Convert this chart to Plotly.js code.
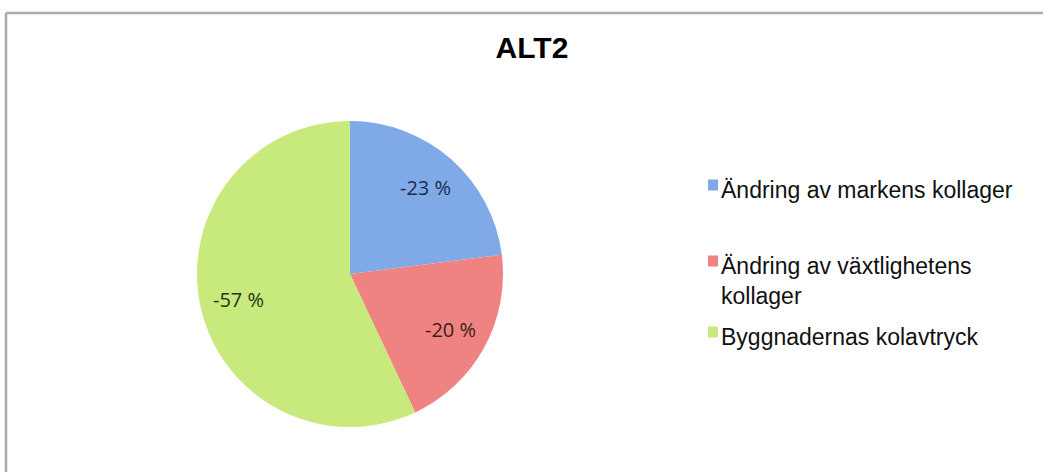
<!DOCTYPE html>
<html>
<head>
<meta charset="utf-8">
<script src="https://cdn.plot.ly/plotly-3.0.1.min.js"></script>
<style>html,body{margin:0;padding:0;background:#fff;}#chart{width:1043px;height:472px;}</style>
</head>
<body>
<div id="chart"></div>
<script>
// Data
const chartTitle = 'ALT2';
const categories = ['Ändring av markens kollager', 'Ändring av växtlighetens kollager', 'Byggnadernas kolavtryck'];
const legendText = ['Ändring av markens kollager', 'Ändring av växtlighetens<br>kollager', 'Byggnadernas kolavtryck'];
const shares = [23, 20, 57];
const sliceLabels = ['-23 %', '-20 %', '-57 %'];

// Styles
const sliceColors = ['#80a9e8', '#ef8382', '#c8e97c'];
const labelColors = ['#1e2c48', '#3f1c1c', '#27341a'];

const W = 1043, H = 472;
const cx = 350, cy = 274, r = 153;

const trace = {
  type: 'pie',
  labels: categories,
  values: shares,
  text: sliceLabels,
  textinfo: 'none',
  sort: false,
  direction: 'clockwise',
  rotation: 0,
  marker: {colors: sliceColors, line: {width: 0}},
  domain: {x: [(cx - r) / W, (cx + r) / W], y: [(H - cy - r) / H, (H - cy + r) / H]},
  showlegend: false,
  hoverinfo: 'label+text'
};

const shapes = [
  // frame
  {type: 'line', xref: 'paper', yref: 'paper', x0: 6 / W, x1: 6 / W, y0: 1 - 13 / H, y1: 0, line: {color: '#ababab', width: 2.5}},
  {type: 'line', xref: 'paper', yref: 'paper', x0: 6 / W, x1: 1, y0: 1 - 13 / H, y1: 1 - 13 / H, line: {color: '#ababab', width: 2.5}}
];
const annotations = [];

// Slice labels placed at the middle angle of each slice (computed from the values)
const total = shares.reduce((a, b) => a + b, 0);
let cum = 0;
shares.forEach((v, i) => {
  const mid = (cum + v / 2) / total * 2 * Math.PI; // clockwise from 12 o'clock
  cum += v;
  const rr = 0.75 * r;
  const px = cx + rr * Math.sin(mid);
  const py = cy - rr * Math.cos(mid);
  annotations.push({xref: 'paper', yref: 'paper', x: px / W, y: 1 - py / H,
    xanchor: 'center', yanchor: 'middle', showarrow: false, text: sliceLabels[i],
    font: {family: 'Open Sans, sans-serif', size: 20, color: labelColors[i]}});
});

// Manual legend built from arrays
const legendBaselines = [191, 267, 338];
categories.forEach((c, i) => {
  const b = legendBaselines[i];
  const sc = b - 6;
  shapes.push({type: 'rect', xref: 'paper', yref: 'paper',
    x0: 708 / W, x1: 718 / W, y0: 1 - (sc - 5.5) / H, y1: 1 - (sc + 5.5) / H,
    fillcolor: sliceColors[i], line: {width: 0}});
  annotations.push({xref: 'paper', yref: 'paper', x: 719 / W, y: 1 - (b - 16) / H,
    xanchor: 'left', yanchor: 'top', align: 'left', showarrow: false,
    text: legendText[i], font: {family: 'Liberation Sans, Arial, sans-serif', size: 23, color: '#111'}});
});

const layout = {
  width: W, height: H,
  margin: {l: 0, r: 0, t: 0, b: 0},
  paper_bgcolor: '#fff',
  title: {text: '<b>' + chartTitle + '</b>', x: 532 / W, xanchor: 'center', y: 1 - 47 / H, yanchor: 'middle',
    font: {family: 'Liberation Sans, Arial, sans-serif', size: 30, color: '#000'}},
  shapes: shapes,
  annotations: annotations,
  showlegend: false
};

Plotly.newPlot('chart', [trace], layout, {displayModeBar: false, staticPlot: true});
</script>
</body>
</html>
